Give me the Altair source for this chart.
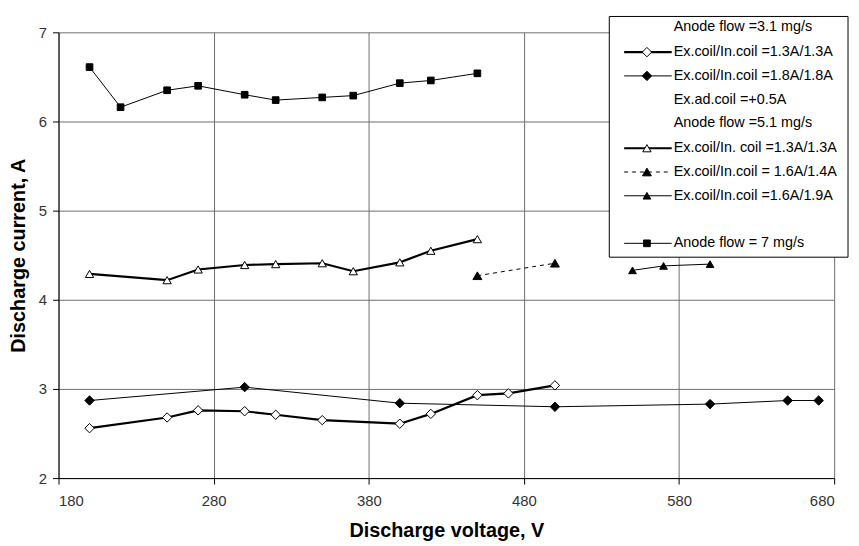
import altair as alt
import pandas as pd

# ---- data ----
v_open_d = [200, 250, 270, 300, 320, 350, 400, 420, 450, 470, 500]
i_open_d = [2.56, 2.68, 2.76, 2.75, 2.71, 2.65, 2.61, 2.72, 2.93, 2.95, 3.04]

v_fill_d = [200, 300, 400, 500, 600, 650, 670]
i_fill_d = [2.87, 3.02, 2.84, 2.80, 2.83, 2.87, 2.87]

v_open_t = [200, 250, 270, 300, 320, 350, 370, 400, 420, 450]
i_open_t = [4.29, 4.22, 4.34, 4.39, 4.40, 4.41, 4.32, 4.42, 4.55, 4.68]

v_dash_t = [450, 500]
i_dash_t = [4.27, 4.41]

v_fill_t = [550, 570, 600]
i_fill_t = [4.33, 4.38, 4.40]

v_sq = [200, 220, 250, 270, 300, 320, 350, 370, 400, 420, 450]
i_sq = [6.61, 6.16, 6.35, 6.40, 6.30, 6.24, 6.27, 6.29, 6.43, 6.46, 6.54]

x_ticks = [180, 280, 380, 480, 580, 680]
y_ticks = [2, 3, 4, 5, 6, 7]

legend_rows = [
    "Anode flow =3.1 mg/s",
    "Ex.coil/In.coil =1.3A/1.3A",
    "Ex.coil/In.coil =1.8A/1.8A",
    "Ex.ad.coil =+0.5A",
    "Anode flow =5.1 mg/s",
    "Ex.coil/In. coil =1.3A/1.3A",
    "Ex.coil/In.coil = 1.6A/1.4A",
    "Ex.coil/In.coil =1.6A/1.9A",
    "",
    "Anode flow = 7 mg/s",
]

FONT = "Liberation Sans"
W, H = 783, 450

xs = alt.Scale(domain=[180, 680], nice=False)
ys = alt.Scale(domain=[2, 7], nice=False)


def series(v, i, shape, filled, lw, size, dash=None):
    df = pd.DataFrame({"V": v, "I": i})
    base = alt.Chart(df)
    line_kw = dict(color="black", strokeWidth=lw)
    if dash:
        line_kw["strokeDash"] = dash
    line = base.mark_line(**line_kw).encode(
        x=alt.X("V:Q", scale=xs),
        y=alt.Y("I:Q", scale=ys),
    )
    pts = base.mark_point(
        shape=shape, filled=True, size=size,
        fill="black" if filled else "white",
        stroke="black", strokeWidth=1, opacity=1,
    ).encode(x=alt.X("V:Q", scale=xs), y=alt.Y("I:Q", scale=ys))
    return [line, pts]


x_axis = alt.Axis(values=x_ticks, title="Discharge voltage, V", grid=True, format="d",
                  labelPadding=10, titlePadding=12)
y_axis = alt.Axis(values=y_ticks, title="Discharge current, A", grid=True, format="d",
                  labelPadding=6, titlePadding=10)

axes_layer = alt.Chart(pd.DataFrame({"V": [180, 680], "I": [2, 7]})).mark_point(opacity=0).encode(
    x=alt.X("V:Q", scale=xs, axis=x_axis),
    y=alt.Y("I:Q", scale=ys, axis=y_axis),
)

layers = [axes_layer]
layers += series(v_sq, i_sq, "square", True, 1, 45)
layers += series(v_fill_d, i_fill_d, "diamond", True, 1, 90)
layers += series(v_open_d, i_open_d, "diamond", False, 2.2, 90)
layers += series(v_open_t, i_open_t, "triangle-up", False, 2.2, 70)
layers += series(v_dash_t, i_dash_t, "triangle-up", True, 1, 80, dash=[4, 4])
layers += series(v_fill_t, i_fill_t, "triangle-up", True, 1, 60)

# ---- hand-built legend (positions in plot pixels) ----
one = pd.DataFrame({"k": [0]})
LX0, LX1 = 556, 797
LY0, LY1 = -16, 227
layers.append(alt.Chart(one).mark_rect(fill="white", stroke="black", strokeWidth=1).encode(
    x=alt.value(LX0), x2=alt.value(LX1), y=alt.value(LY0), y2=alt.value(LY1)))

row_y = [-5, 20, 44, 68, 92, 117, 141, 165, 189, 213]
TX = 621
for lab, yy in zip(legend_rows, row_y):
    if lab:
        layers.append(alt.Chart(one).mark_text(
            align="left", baseline="middle", font=FONT, fontSize=14.5, color="black").encode(
            x=alt.value(TX), y=alt.value(yy), text=alt.value(lab)))

sym = [
    (1, "diamond", False, 2.2, 90, None),
    (2, "diamond", True, 1, 90, None),
    (5, "triangle-up", False, 2.2, 70, None),
    (6, "triangle-up", True, 1, 80, [4, 4]),
    (7, "triangle-up", True, 1, 60, None),
    (9, "square", True, 1, 45, None),
]
for r, shape, filled, lw, size, dash in sym:
    yy = row_y[r]
    kw = dict(color="black", strokeWidth=lw)
    if dash:
        kw["strokeDash"] = dash
    layers.append(alt.Chart(one).mark_rule(**kw).encode(
        x=alt.value(571), x2=alt.value(619), y=alt.value(yy)))
    layers.append(alt.Chart(one).mark_point(
        shape=shape, filled=True, size=size, fill="black" if filled else "white",
        stroke="black", strokeWidth=1, opacity=1).encode(
        x=alt.value(594), y=alt.value(yy)))

chart = alt.layer(*layers).properties(
    width=W, height=H,
    autosize=alt.AutoSizeParams(type="none"),
    padding={"left": 51, "top": 22, "right": 17, "bottom": 66},
).configure_view(stroke=None).configure_axis(
    gridColor="#6e6e6e", gridWidth=1, gridOpacity=1,
    domainColor="black", domainWidth=1,
    tickColor="black", tickSize=6,
    labelFont=FONT, labelFontSize=15, labelColor="#333333",
    titleFont=FONT, titleFontSize=20, titleFontWeight="bold", titleColor="black",
)

chart.save("out.html", embed_options={"renderer": "svg", "actions": False})
